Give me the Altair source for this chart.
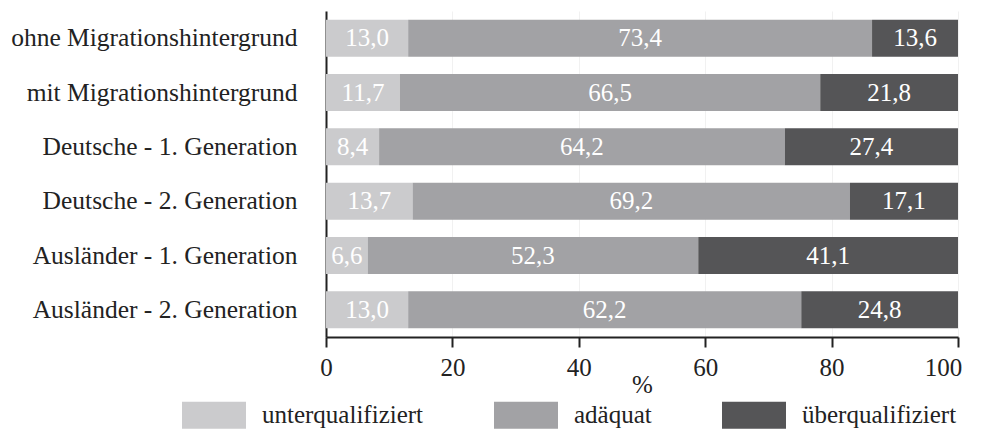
import altair as alt
import pandas as pd

groups = [
    "ohne Migrationshintergrund",
    "mit Migrationshintergrund",
    "Deutsche - 1. Generation",
    "Deutsche - 2. Generation",
    "Ausländer - 1. Generation",
    "Ausländer - 2. Generation",
]
categories = ["unterqualifiziert", "adäquat", "überqualifiziert"]
unter = [13.0, 11.7, 8.4, 13.7, 6.6, 13.0]
adaequat = [73.4, 66.5, 64.2, 69.2, 52.3, 62.2]
ueber = [13.6, 21.8, 27.4, 17.1, 41.1, 24.8]
tick_values = [0, 20, 40, 60, 80, 100]
colors = ["#cbcbcd", "#a2a2a5", "#555557"]

rows = []
for i, g in enumerate(groups):
    for j, (c, v) in enumerate(zip(categories, [unter[i], adaequat[i], ueber[i]])):
        rows.append({"group": g, "cat": c, "order": j, "value": v})
df = pd.DataFrame(rows)

FONT = "Liberation Serif"

base = alt.Chart(df).transform_stack(
    stack="value", groupby=["group"], sort=[alt.SortField("order")], as_=["x0", "x1"]
).transform_calculate(
    mid="(datum.x0 + datum.x1) / 2",
    lbl="replace(format(datum.value, '.1f'), '.', ',')",
)

yenc = alt.Y(
    "group:N",
    sort=groups,
    title=None,
    scale=alt.Scale(paddingInner=0.32, paddingOuter=0.16),
    axis=alt.Axis(
        ticks=False,
        labelFont=FONT,
        labelFontSize=25.5,
        labelColor="#222222",
        labelPadding=29,
        domainColor="#222222",
        domainWidth=2,
        labelLimit=400,
    ),
)

bars = base.mark_bar().encode(
    x=alt.X(
        "x0:Q",
        scale=alt.Scale(domain=[0, 100], nice=False),
        title="%",
        axis=alt.Axis(
            values=tick_values,
            labelFont=FONT,
            labelFontSize=25,
            labelColor="#222222",
            labelPadding=8,
            labelFlush=False,
            labelOffset={"condition": {"test": "datum.value == 100", "value": -15}, "value": 0},
            tickSize=10,
            tickWidth=2,
            tickColor="#222222",
            domainColor="#222222",
            domainWidth=2,
            grid=True,
            gridColor="#f1f1f1",
            titleFont=FONT,
            titleFontSize=25,
            titleFontWeight="normal",
            titleColor="#222222",
            titleY=47,
            titleBaseline="middle",
        ),
    ),
    x2="x1:Q",
    y=yenc,
    color=alt.Color(
        "cat:N",
        sort=categories,
        scale=alt.Scale(domain=categories, range=colors),
        legend=alt.Legend(
            title=None,
            orient="none",
            legendX=-144,
            legendY=372,
            direction="horizontal",
            symbolType="M-1,-0.42H1V0.42H-1Z",
            symbolSize=4096,
            symbolStrokeWidth=0,
            symbolOpacity=1,
            labelFont=FONT,
            labelFontSize=25,
            labelColor="#222222",
            labelOffset=16,
            columnPadding=70,
            labelLimit=400,
        ),
    ),
    order=alt.Order("order:Q"),
)

texts = base.mark_text(font=FONT, fontSize=25, color="white", baseline="middle").encode(
    x=alt.X("mid:Q"),
    y=alt.Y("group:N", sort=groups),
    text="lbl:N",
)

chart = (
    alt.layer(bars, texts)
    .properties(
        width=632,
        height=326,
        autosize=alt.AutoSizeParams(type="none"),
        padding={"left": 318, "top": 3, "right": 17, "bottom": 96},
    )
    .configure_view(stroke=None)
)

chart.save("out.html", embed_options={"renderer": "svg", "actions": False})
